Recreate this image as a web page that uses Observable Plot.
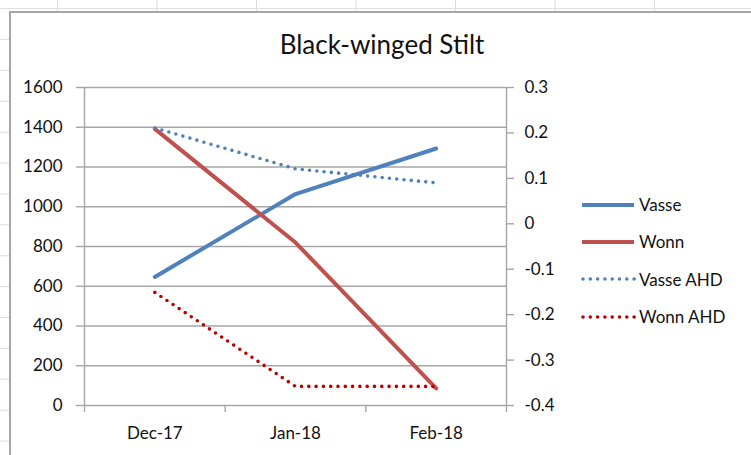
<!DOCTYPE html>
<html>
<head>
<meta charset="utf-8">
<script src="https://cdn.jsdelivr.net/npm/d3@7"></script>
<script src="https://cdn.jsdelivr.net/npm/@observablehq/plot@0.6"></script>
<style>
  html, body { margin: 0; padding: 0; }
  body {
    width: 751px; height: 455px; overflow: hidden; position: relative;
    background-color: #fff;
    background-image:
      linear-gradient(to right, #dadcdd 1px, transparent 1px),
      linear-gradient(to bottom, #dadcdd 1px, transparent 1px);
    background-size: 99.5px 100%, 100% 30.9px;
    background-position: 57px 0, 0 39px;
    font-family: Lato, "Open Sans", sans-serif;
  }
  #box {
    position: absolute; left: 9px; top: 11px; width: 820px; height: 520px;
    background: #fff; border-left: 2px solid #a6a6a6; border-top: 2px solid #a6a6a6;
  }
  #chart { position: absolute; left: 0; top: 0; }
  #title {
    position: absolute; left: 182px; width: 400px; top: 31px;
    text-align: center; font-size: 26px; line-height: 26px; color: #111;
  }
  #legend { position: absolute; left: 581px; top: 186px; }
  .row { height: 37.3px; display: flex; align-items: center; font-size: 17px; color: #111; }
  .row svg { width: 58px; height: 10px; display: block; }
</style>
</head>
<body>
<div id="box"></div>
<div id="chart"></div>
<div id="title">Black-winged Stilt</div>
<div id="legend"></div>
<script>
// ---- data ----
const months = ["Dec-17", "Jan-18", "Feb-18"];
const vasse = [647, 1064, 1293];
const wonn = [1392, 820, 86];
const vasseAHD = [0.211, 0.121, 0.09];
const wonnAHD = [-0.151, -0.358, -0.358];
const leftTicks = [0, 200, 400, 600, 800, 1000, 1200, 1400, 1600];
const rightTicks = [-0.4, -0.3, -0.2, -0.1, 0, 0.1, 0.2, 0.3];
const seriesNames = ["Vasse", "Wonn", "Vasse AHD", "Wonn AHD"];

// ---- styles ----
const seriesStyles = [
  {stroke: "#4F81BD", strokeWidth: 4, dash: null},
  {stroke: "#C0504D", strokeWidth: 4, dash: null},
  {stroke: "#4F81BD", strokeWidth: 3.6, dash: "0 7.3"},
  {stroke: "#C00000", strokeWidth: 3.6, dash: "0 7.3"}
];
const gridColor = "#a6a6a6";
const textColor = "#111";

// secondary axis mapped onto the primary scale
const leftMin = leftTicks[0], leftMax = leftTicks[leftTicks.length - 1];
const rMin = rightTicks[0], rMax = rightTicks[rightTicks.length - 1];
const toLeft = v => leftMin + (v - rMin) / (rMax - rMin) * (leftMax - leftMin);
const toRight = v => rMin + (v - leftMin) / (leftMax - leftMin) * (rMax - rMin);

const idx = months.map((m, i) => i);
const bounds = d3.range(months.length + 1).map(i => i - 0.5);

const seriesValues = [vasse, wonn, vasseAHD.map(toLeft), wonnAHD.map(toLeft)];
const lineMarks = seriesValues.map((vals, s) => {
  const st = seriesStyles[s];
  const data = vals.map((v, i) => ({i, v}));
  const opts = {x: "i", y: "v", stroke: st.stroke, strokeWidth: st.strokeWidth,
    strokeLinecap: "round", strokeLinejoin: "round"};
  if (st.dash) opts.strokeDasharray = st.dash;
  return Plot.line(data, opts);
});

const fmtRight = t => {
  const r = Math.round(toRight(t) * 10) / 10;
  return r === 0 ? "0" : String(r);
};

const chart = Plot.plot({
  width: 751,
  height: 455,
  marginLeft: 84,
  marginRight: 245,
  marginTop: 87,
  marginBottom: 50,
  x: {type: "linear", domain: [bounds[0], bounds[bounds.length - 1]]},
  y: {domain: [leftMin, leftMax]},
  style: {fontFamily: "Lato, sans-serif", fontSize: "17px", color: textColor,
          background: "transparent", overflow: "visible"},
  marks: [
    Plot.gridY(leftTicks, {stroke: gridColor, strokeOpacity: 1, strokeWidth: 1.4}),
    Plot.ruleX([bounds[0], bounds[bounds.length - 1]], {stroke: gridColor, strokeWidth: 1.4}),
    Plot.axisY({ticks: leftTicks, anchor: "left", tickSize: 8, tickPadding: 14,
      tickFormat: d => String(d),
      stroke: gridColor, strokeWidth: 1.4, fill: textColor, label: null}),
    Plot.axisY({ticks: rightTicks.map(toLeft), anchor: "right", tickSize: 7, tickPadding: 11,
      tickFormat: fmtRight, stroke: gridColor, strokeWidth: 1.4, fill: textColor, label: null}),
    Plot.axisX({ticks: bounds, tickSize: 7, tickFormat: () => "", stroke: gridColor,
      strokeWidth: 1.4, label: null}),
    Plot.axisX({ticks: idx, tickSize: 0, tickPadding: 21, tickFormat: i => months[i],
      fill: textColor, label: null}),
    ...lineMarks
  ]
});
document.getElementById("chart").appendChild(chart);

// ---- legend ----
const legend = d3.select("#legend");
seriesNames.forEach((name, s) => {
  const st = seriesStyles[s];
  const row = legend.append("div").attr("class", "row");
  const svg = row.append("svg");
  svg.append("line")
    .attr("x1", st.dash ? 2 : 1).attr("x2", st.dash ? 54 : 53)
    .attr("y1", 5).attr("y2", 5)
    .attr("stroke", st.stroke)
    .attr("stroke-width", st.strokeWidth)
    .attr("stroke-linecap", st.dash ? "round" : "butt")
    .attr("stroke-dasharray", st.dash);
  row.append("span").text(name);
});
</script>
</body>
</html>
